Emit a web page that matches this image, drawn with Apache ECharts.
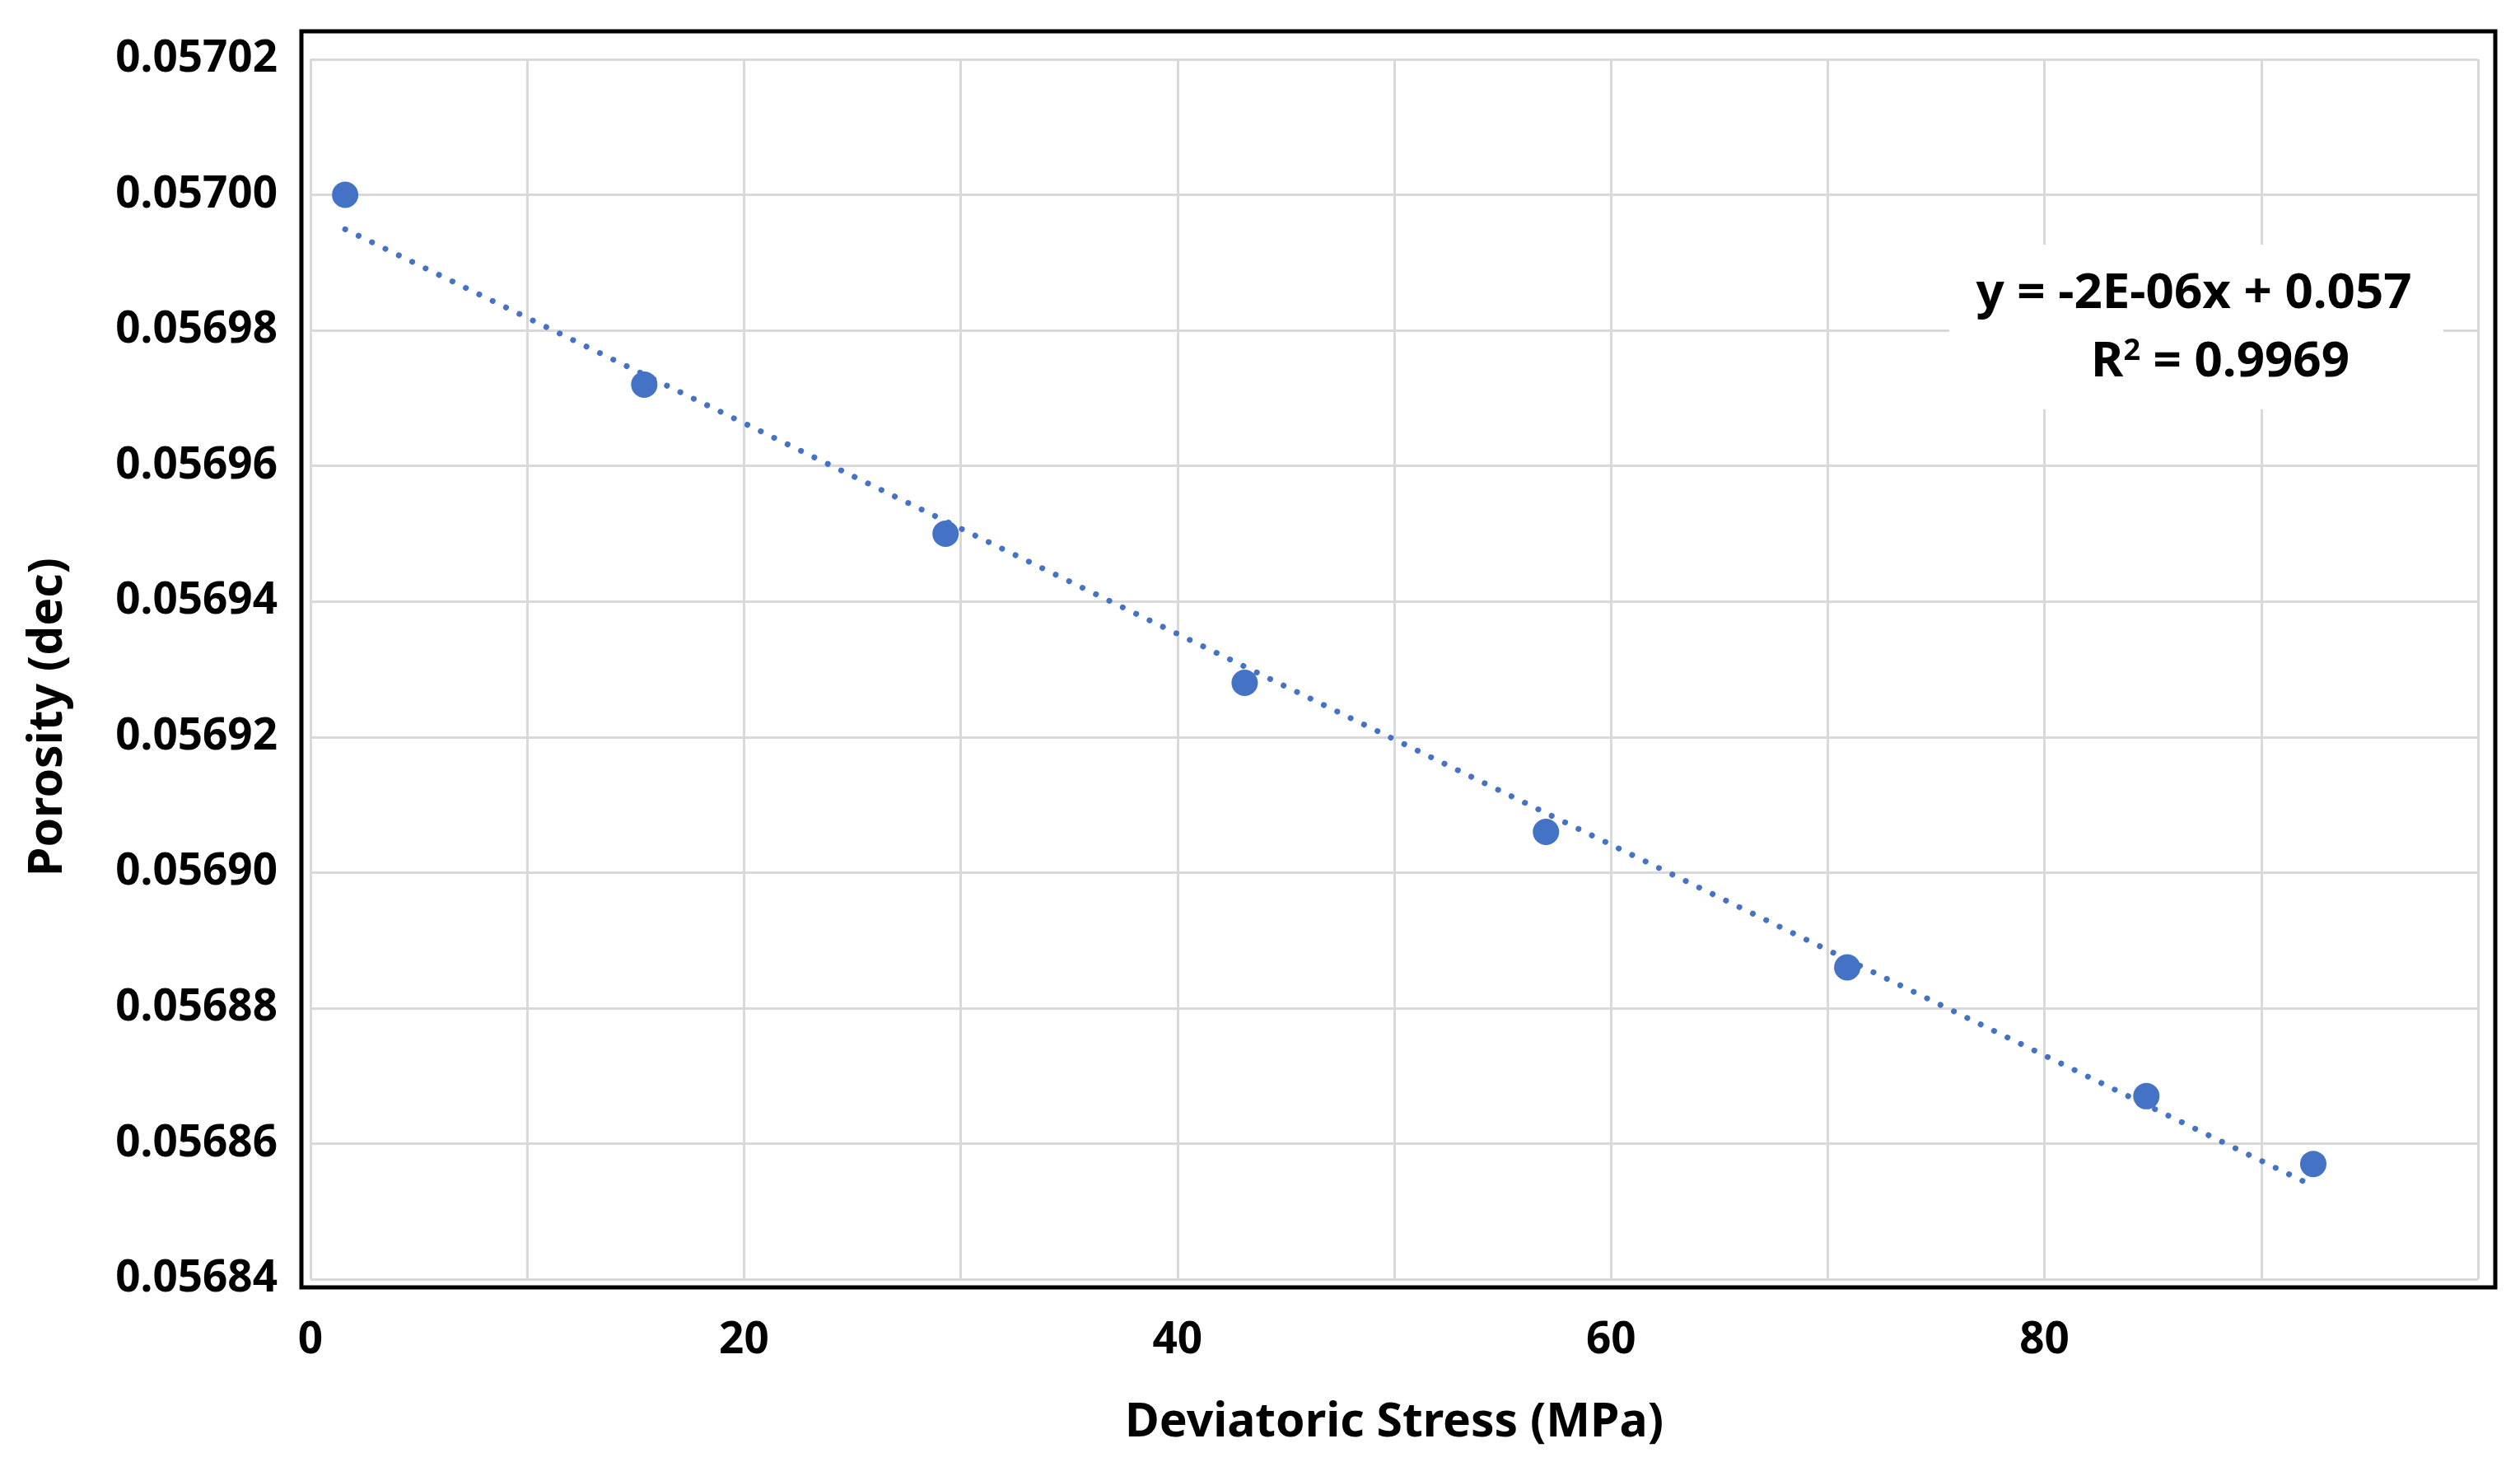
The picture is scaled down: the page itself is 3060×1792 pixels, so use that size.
<!DOCTYPE html>
<html>
<head>
<meta charset="utf-8">
<script src="https://cdn.jsdelivr.net/npm/echarts@6/dist/echarts.min.js"></script>
<style>
html,body{margin:0;padding:0;background:#fff;}
#chart{width:3060px;height:1792px;}
</style>
</head>
<body>
<div id="chart"></div>
<script>
// Data
var stress = [1.6, 15.4, 29.3, 43.1, 57.0, 70.9, 84.7, 92.4];
var porosity = [0.057000, 0.056972, 0.056950, 0.056928, 0.056906, 0.056886, 0.056867, 0.056857];
var xTickLabels = ['0', '20', '40', '60', '80'];
var equationText = 'y = -2E-06x + 0.057';
var r2Text = '0.9969';

// Linear trendline (least squares) from the data
var n = stress.length, sx = 0, sy = 0, sxx = 0, sxy = 0;
for (var i = 0; i < n; i++) { sx += stress[i]; sy += porosity[i]; sxx += stress[i]*stress[i]; sxy += stress[i]*porosity[i]; }
var slope = (n*sxy - sx*sy) / (n*sxx - sx*sx);
var icpt = (sy - slope*sx) / n;
var xMin = Math.min.apply(null, stress), xMax = Math.max.apply(null, stress);
var trend = [[xMin, icpt + slope*xMin], [xMax, icpt + slope*xMax]];

var pts = stress.map(function (x, i) { return [x, porosity[i]]; });

var FONT = 'Noto Sans';
var chart = echarts.init(document.getElementById('chart'));
chart.setOption({
  backgroundColor: '#ffffff',
  animation: false,
  grid: { left: 377, right: 51, top: 72, bottom: 239, containLabel: false },
  xAxis: {
    type: 'value', min: 0, max: 100, interval: 10,
    name: 'Deviatoric Stress (MPa)', nameLocation: 'middle', nameGap: 146,
    nameTextStyle: { fontFamily: FONT, fontWeight: 'bold', fontSize: 57, color: '#000' },
    axisLine: { show: false }, axisTick: { show: false },
    axisLabel: {
      margin: 48, fontFamily: FONT, fontWeight: 'bold', fontSize: 53, color: '#000',
      formatter: function (v) { var s = String(Math.round(v)); return xTickLabels.indexOf(s) >= 0 ? s : ''; }
    },
    splitLine: { show: true, lineStyle: { color: '#d9d9d9', width: 3 } }
  },
  yAxis: {
    type: 'value', min: 0.05684, max: 0.05702, interval: 0.00002,
    name: 'Porosity (dec)', nameLocation: 'middle', nameGap: 290,
    nameTextStyle: { fontFamily: FONT, fontWeight: 'bold', fontSize: 57, color: '#000', padding: [0, 116, 0, 0] },
    axisLine: { show: false }, axisTick: { show: false },
    axisLabel: {
      margin: 40, fontFamily: FONT, fontWeight: 'bold', fontSize: 53, color: '#000',
      formatter: function (v) { return v.toFixed(5); }
    },
    splitLine: { show: true, lineStyle: { color: '#d9d9d9', width: 3 } }
  },
  series: [
    {
      type: 'line', data: trend, symbol: 'none', silent: true, z: 3,
      lineStyle: { color: '#4472c4', width: 7, type: [0.1, 18], cap: 'round' }
    },
    {
      type: 'scatter', data: pts, symbol: 'circle', symbolSize: 32, z: 4,
      itemStyle: { color: '#4472c4', opacity: 1 }
    }
  ],
  graphic: [
    { type: 'rect', z: 100, shape: { x: 366, y: 38, width: 2664, height: 1525 },
      style: { fill: 'none', stroke: '#000', lineWidth: 5 } },
    { type: 'rect', z: 100, shape: { x: 2367, y: 297, width: 600, height: 200 },
      style: { fill: '#fff', stroke: 'none' } },
    { type: 'text', z: 101, x: 2664, y: 357,
      style: { text: equationText, font: 'bold 60px "Noto Sans"', fill: '#000', textAlign: 'center', textVerticalAlign: 'middle' } },
    { type: 'text', z: 101, x: 2696, y: 440,
      style: {
        text: '{a|R}{s|2}{a| = ' + r2Text + '}', textAlign: 'center', textVerticalAlign: 'middle',
        rich: {
          a: { font: 'bold 60px "Noto Sans"', fill: '#000', color: '#000' },
          s: { font: 'bold 36px "Noto Sans"', fill: '#000', color: '#000', verticalAlign: 'top', padding: [0, 0, 26, 0] }
        }
      } }
  ]
});
</script>
</body>
</html>
